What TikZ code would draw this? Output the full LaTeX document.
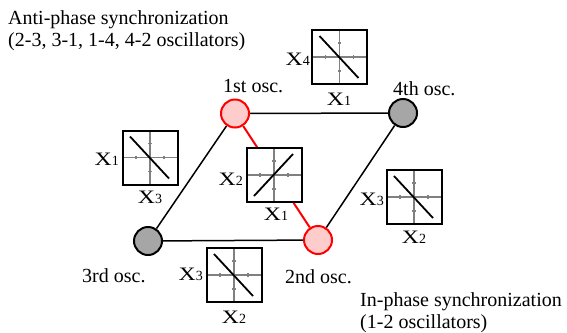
\documentclass[tikz,border=0pt]{standalone}
\usepackage{fontspec}
\setmainfont{Liberation Serif}
\usetikzlibrary{calc}
\newcommand\phasebox[4]{%
  \node[pbox] (#1) at (#2,#3) {};
  \begin{scope}[shift={(#1.center)}]
    \draw[axisline] (0,-27) -- (0,27);
    \draw[axisline] (-27,0) -- (27,0);
    \foreach \t in {-14,14}{
      \draw[axisline] (\t,-1.6) -- (\t,1.6);
      \draw[axisline] (-1.6,\t) -- (1.6,\t);
    }
    \draw[traceline] (-20,{-21*#4}) -- (19,{21*#4});
  \end{scope}
  \node[pbox,fill=none] at (#1.center) {};
}
\begin{document}
\begin{tikzpicture}[x=1bp,y=-1bp,
  txt/.style={inner sep=0pt,font={\fontsize{20bp}{22.5bp}\selectfont}},
  lab/.style={inner sep=0pt},
  redosc/.style={circle,draw=red,fill=red!20,line width=2bp,minimum size=28bp,inner sep=0pt},
  blkosc/.style={circle,draw=black,fill=black!35,line width=2bp,minimum size=28bp,inner sep=0pt},
  pbox/.style={draw=black,fill=white,line width=2bp,minimum width=55bp,minimum height=54bp,inner sep=0pt},
  axisline/.style={draw=black!50,line width=1.3bp},
  traceline/.style={draw=black,line width=1.8bp},
  edge/.style={draw=black,line width=1.5bp},
  redge/.style={draw=red,line width=2bp}]
\useasboundingbox (0,0) rectangle (567,332);

% oscillators
\node[redosc] (o1) at (235,113.5) {};
\node[blkosc] (o4) at (403,113) {};
\node[blkosc] (o3) at (148,241) {};
\node[redosc] (o2) at (318,240) {};

% connections
\draw[edge] (o1) -- (o4);
\draw[edge] (o1) -- (o3);
\draw[edge] (o3) -- (o2);
\draw[edge] (o4) -- (o2);
\draw[redge] (o1) -- (o2);

% phase plots
\phasebox{bt}{339.5}{57}{1}
\phasebox{bl}{150}{157.5}{1}
\phasebox{bm}{274}{175}{-1}
\phasebox{br}{414}{197}{1}
\phasebox{bb}{234}{275}{1}

% axis labels
\newcommand\xl[1]{{\fontsize{19bp}{19bp}\selectfont\scalebox{1.25}[1]{X}}{\fontsize{14bp}{14bp}\selectfont #1}}
\node[lab,anchor=base east] (lt1) at (310,65) {\xl{4}};
\node[lab,anchor=base] (lt2) at (339,105) {\xl{1}};
\node[lab,anchor=base east] (ll1) at (119,165) {\xl{1}};
\node[lab,anchor=base] (ll2) at (150,203) {\xl{3}};
\node[lab,anchor=base east] (lm1) at (243,185) {\xl{2}};
\node[lab,anchor=base] (lm2) at (276,220) {\xl{1}};
\node[lab,anchor=base east] (lr1) at (384,205) {\xl{3}};
\node[lab,anchor=base] (lr2) at (414,243) {\xl{2}};
\node[lab,anchor=base east] (lb1) at (203,280) {\xl{3}};
\node[lab,anchor=base] (lb2) at (234,323) {\xl{2}};

% oscillator names
\node[txt,anchor=base west] (n1) at (223,92) {1st osc.};
\node[txt,anchor=base west] (n4) at (393,95) {4th osc.};
\node[txt,anchor=base west] (n3) at (82,282) {3rd osc.};
\node[txt,anchor=base west] (n2) at (285,283) {2nd osc.};

% captions
\node[txt,anchor=north west,align=left] (anti) at (8,10) {Anti-phase synchronization\\(2-3, 3-1, 1-4, 4-2 oscillators)};
\node[txt,anchor=north west,align=left] (inph) at (360,292) {In-phase synchronization\\(1-2 oscillators)};
\end{tikzpicture}
\end{document}
